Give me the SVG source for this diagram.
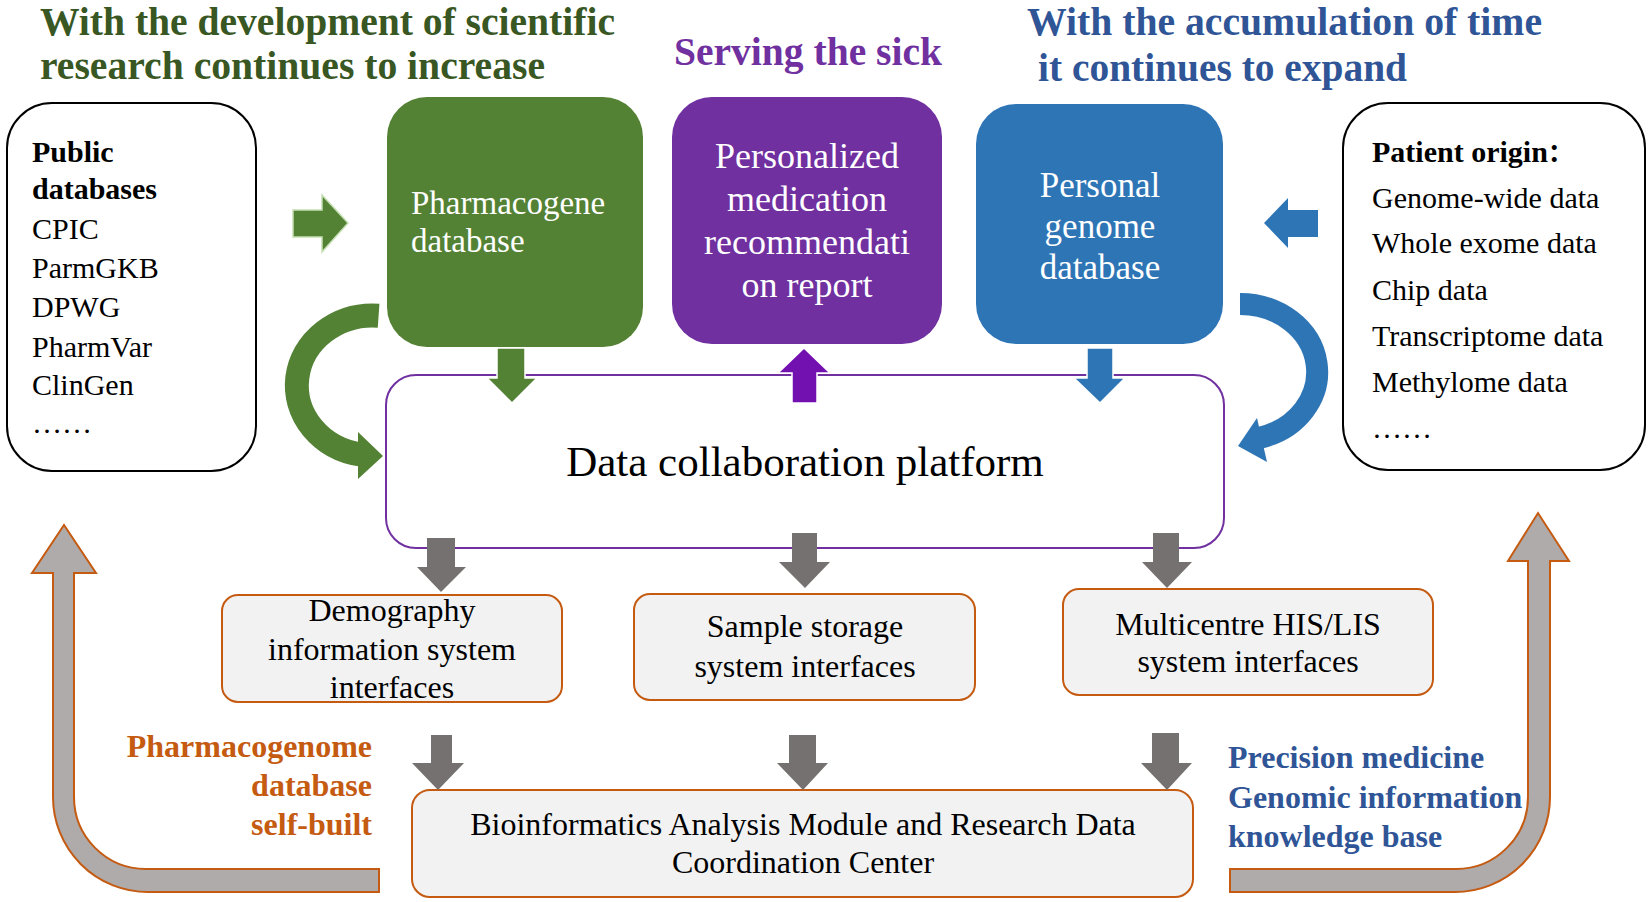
<svg xmlns="http://www.w3.org/2000/svg" width="1649" height="902" viewBox="0 0 1649 902">
<style>
text{font-family:"Liberation Serif","Times New Roman",serif;}
.title{font-size:39px;font-weight:bold;}
.lst{font-size:30px;fill:#000;}
.b{font-weight:bold;}
.wt{fill:#fff;}
.node-txt{font-size:32px;fill:#000;text-anchor:middle;}
.ibox{fill:#F2F2F2;stroke:#C55A11;stroke-width:2;}
.gray{fill:#767171;}
.uarrow{fill:#AFABAB;stroke:#C55A11;stroke-width:2;}
.lbl{font-size:32px;font-weight:bold;}
</style>

<!-- titles -->
<g id="title-left">
<text class="title" x="40" y="35" fill="#385723" textLength="575" lengthAdjust="spacingAndGlyphs">With the development of scientific</text>
<text class="title" x="40" y="79" fill="#385723" textLength="505" lengthAdjust="spacingAndGlyphs">research continues to increase</text>
</g>
<g id="title-mid">
<text class="title" x="674" y="65" fill="#7030A0" textLength="268" lengthAdjust="spacingAndGlyphs">Serving the sick</text>
</g>
<g id="title-right">
<text class="title" x="1027" y="35" fill="#2F5597" textLength="515" lengthAdjust="spacingAndGlyphs">With the accumulation of time</text>
<text class="title" x="1038" y="81" fill="#2F5597" textLength="369" lengthAdjust="spacingAndGlyphs">it continues to expand</text>
</g>

<!-- left box -->
<g id="public-databases">
<rect x="7" y="103" width="249" height="368" rx="45" fill="#fff" stroke="#000" stroke-width="2"/>
<text class="lst b" x="32" y="162">Public</text>
<text class="lst b" x="32" y="199">databases</text>
<text class="lst" x="32" y="239">CPIC</text>
<text class="lst" x="32" y="278">ParmGKB</text>
<text class="lst" x="32" y="317">DPWG</text>
<text class="lst" x="32" y="357">PharmVar</text>
<text class="lst" x="32" y="395">ClinGen</text>
<text class="lst" x="32" y="433">……</text>
</g>

<!-- right box -->
<g id="patient-origin">
<rect x="1343" y="103" width="302" height="367" rx="45" fill="#fff" stroke="#000" stroke-width="2"/>
<text class="lst b" x="1372" y="162">Patient origin<tspan font-family="'Noto Sans CJK SC',sans-serif" font-size="26">：</tspan></text>
<text class="lst" x="1372" y="208">Genome-wide data</text>
<text class="lst" x="1372" y="253">Whole exome data</text>
<text class="lst" x="1372" y="300">Chip data</text>
<text class="lst" x="1372" y="346">Transcriptome data</text>
<text class="lst" x="1372" y="392">Methylome data</text>
<text class="lst" x="1372" y="438">……</text>
</g>

<!-- platform -->
<g id="platform">
<rect x="386" y="375" width="838" height="173" rx="30" fill="#fff" stroke="#7030A0" stroke-width="2"/>
<text x="805" y="476" font-size="43" text-anchor="middle" fill="#000">Data collaboration platform</text>
</g>

<!-- top nodes -->
<g id="pharmacogene-db">
<rect x="387" y="97" width="256" height="250" rx="40" fill="#548235"/>
<text class="wt" x="411" y="214" font-size="33">Pharmacogene</text>
<text class="wt" x="411" y="252" font-size="33">database</text>
</g>
<g id="recommendation-report">
<rect x="672" y="97" width="270" height="247" rx="40" fill="#7030A0"/>
<g class="wt" font-size="36" text-anchor="middle">
<text x="807" y="168">Personalized</text>
<text x="807" y="211">medication</text>
<text x="807" y="254">recommendati</text>
<text x="807" y="297">on report</text>
</g>
</g>
<g id="personal-genome-db">
<rect x="976" y="104" width="247" height="240" rx="40" fill="#2E75B6"/>
<g class="wt" font-size="35" text-anchor="middle">
<text x="1100" y="197">Personal</text>
<text x="1100" y="238">genome</text>
<text x="1100" y="279">database</text>
</g>
</g>

<!-- interface boxes -->
<g id="demography">
<rect class="ibox" x="222" y="595" width="340" height="107" rx="16"/>
<text class="node-txt" x="392" y="621">Demography</text>
<text class="node-txt" x="392" y="660">information system</text>
<text class="node-txt" x="392" y="698">interfaces</text>
</g>
<g id="sample-storage">
<rect class="ibox" x="634" y="594" width="341" height="106" rx="16"/>
<text class="node-txt" x="805" y="637">Sample storage</text>
<text class="node-txt" x="805" y="677">system interfaces</text>
</g>
<g id="multicentre">
<rect class="ibox" x="1063" y="589" width="370" height="106" rx="16"/>
<text class="node-txt" x="1248" y="635">Multicentre HIS/LIS</text>
<text class="node-txt" x="1248" y="672">system interfaces</text>
</g>
<g id="bioinformatics">
<rect class="ibox" x="412" y="790" width="781" height="107" rx="18"/>
<text class="node-txt" x="803" y="835">Bioinformatics Analysis Module and Research Data</text>
<text class="node-txt" x="803" y="873">Coordination Center</text>
</g>

<!-- side labels -->
<g id="label-pharmacogenome" fill="#C55A11" text-anchor="end">
<text class="lbl" x="372" y="757">Pharmacogenome</text>
<text class="lbl" x="372" y="796">database</text>
<text class="lbl" x="372" y="835">self-built</text>
</g>
<g id="label-precision" fill="#2F5597">
<text class="lbl" x="1228" y="768">Precision medicine</text>
<text class="lbl" x="1228" y="808">Genomic information</text>
<text class="lbl" x="1228" y="847">knowledge base</text>
</g>

<!-- connectors -->
<g id="connectors">
<polygon points="293,210 322,210 322,195 348,223 322,252 322,237 293,237" fill="#548235" stroke="#C5E0B4" stroke-width="1.5"/>
<polygon points="1318,210 1288,210 1288,198 1264,223 1288,248 1288,237 1318,237" fill="#2E75B6"/>
<path d="M 378.6 315.7 A 76 70 0 0 0 361.4 454.7" fill="none" stroke="#548235" stroke-width="24"/>
<polygon points="358,432 383,456 358,479" fill="#548235"/>
<path d="M 1240 304 A 77 68 0 0 1 1260 437.7" fill="none" stroke="#2E75B6" stroke-width="22"/>
<polygon points="1257,418 1267,462 1238,446" fill="#2E75B6"/>
<polygon points="497,348 525,348 525,378 537,378 512,403 487,378 497,378" fill="#548235" stroke="#fff" stroke-width="1.5"/>
<polygon points="804,348 830,373 817,373 817,403 792,403 792,373 778,373" fill="#7210B0" stroke="#fff" stroke-width="1.5"/>
<polygon points="1087,348 1113,348 1113,378 1125,378 1100,403 1074,378 1087,378" fill="#2E75B6" stroke="#fff" stroke-width="1.5"/>
<polygon class="gray" points="427,538 455,538 455,567 466,567 441,592 417,567 427,567"/>
<polygon class="gray" points="792,533 817,533 817,562 830,562 805,588 779,562 792,562"/>
<polygon class="gray" points="1153,533 1179,533 1179,562 1192,562 1167,588 1142,562 1153,562"/>
<polygon class="gray" points="431,735 452,735 452,763 464,763 438,790 412,763 431,763"/>
<polygon class="gray" points="789,735 816,735 816,763 828,763 803,790 777,763 789,763"/>
<polygon class="gray" points="1152,733 1179,733 1179,763 1192,763 1167,790 1141,763 1152,763"/>
<path class="uarrow" d="M 379 869 L 146 869 A 72 72 0 0 1 74 797 L 74 573 L 96 573 L 64 525 L 32 573 L 53 573 L 53 797 A 95 95 0 0 0 148 892 L 379 892 Z"/>
<path class="uarrow" d="M 1230 869 L 1456 869 A 72 72 0 0 0 1528 797 L 1528 561 L 1508 561 L 1538 513 L 1569 561 L 1550 561 L 1550 797 A 95 95 0 0 1 1455 892 L 1230 892 Z"/>
</g>
</svg>
